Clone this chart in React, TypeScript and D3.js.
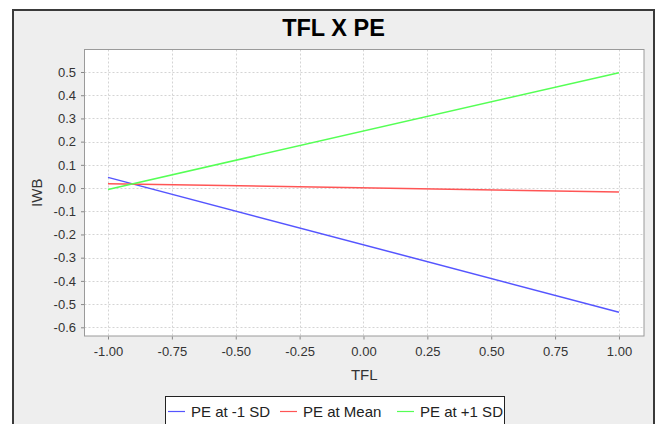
import * as d3 from 'd3'
import React, { useEffect, useRef } from 'react'

// TFL values at which the simple slopes are drawn
const tflPoints = [-1, 1]

// IWB predicted at TFL = -1 and TFL = +1, one array per PE level
const lowPE = [0.046, -0.535]
const meanPE = [0.019, -0.017]
const highPE = [-0.006, 0.497]

const seriesNames = ['PE at -1 SD', 'PE at Mean', 'PE at +1 SD']
const seriesColors = ['#5555FF', '#FF5555', '#55FF55']

const xTicks = [-1, -0.75, -0.5, -0.25, 0, 0.25, 0.5, 0.75, 1]
const yTicks = [0.5, 0.4, 0.3, 0.2, 0.1, 0, -0.1, -0.2, -0.3, -0.4, -0.5, -0.6]

const W = 658
const H = 424
const font = '"Liberation Sans", Arial, sans-serif'

const App = () => {
  const svgRef = useRef<SVGSVGElement | null>(null)

  useEffect(() => {
    if (!svgRef.current) return
    const root = d3.select(svgRef.current)
    root.selectAll('*').remove()

    // plot area
    const plot = { left: 84.5, right: 644, top: 49.5, bottom: 336 }

    const x = d3.scaleLinear().domain([-1.092, 1.098]).range([plot.left, plot.right])
    const y = d3.scaleLinear().domain([-0.6375, 0.597]).range([plot.bottom, plot.top])

    // outer chart frame
    root.append('rect').attr('width', W).attr('height', H).attr('fill', '#ffffff')
    root
      .append('rect')
      .attr('x', 13)
      .attr('y', 10)
      .attr('width', 641)
      .attr('height', H)
      .attr('fill', '#eeeeee')
      .attr('stroke', '#3a3a3a')
      .attr('stroke-width', 2)

    // title
    root
      .append('text')
      .attr('x', 333.5)
      .attr('y', 36)
      .attr('text-anchor', 'middle')
      .style('font-family', font)
      .style('font-size', '23.5px')
      .style('font-weight', 'bold')
      .attr('fill', '#000')
      .text('TFL X PE')

    // plot background
    root
      .append('rect')
      .attr('x', plot.left)
      .attr('y', plot.top)
      .attr('width', plot.right - plot.left)
      .attr('height', plot.bottom - plot.top)
      .attr('fill', '#ffffff')

    // dashed gridlines
    const grid = root.append('g').attr('stroke', '#d4d4d4').attr('stroke-dasharray', '2,2')
    xTicks.forEach((t) => {
      grid
        .append('line')
        .attr('x1', Math.round(x(t)) + 0.5)
        .attr('x2', Math.round(x(t)) + 0.5)
        .attr('y1', plot.top)
        .attr('y2', plot.bottom)
    })
    yTicks.forEach((t) => {
      grid
        .append('line')
        .attr('x1', plot.left)
        .attr('x2', plot.right)
        .attr('y1', Math.round(y(t)) + 0.5)
        .attr('y2', Math.round(y(t)) + 0.5)
    })

    // plot outline
    root
      .append('rect')
      .attr('x', plot.left)
      .attr('y', plot.top)
      .attr('width', plot.right - plot.left)
      .attr('height', plot.bottom - plot.top)
      .attr('fill', 'none')
      .attr('stroke', '#9a9a9a')
      .attr('stroke-width', 1)

    // x axis
    const xAxis = root.append('g').attr('transform', `translate(0,${plot.bottom + 0.5})`)
    xAxis
      .call(
        d3
          .axisBottom(x)
          .tickValues(xTicks)
          .tickSize(3)
          .tickPadding(7)
          .tickFormat((d) => d3.format('.2f')(d as number).replace('−', '-'))
      )
      .call((g) => g.select('.domain').remove())
      .call((g) => g.selectAll('.tick line').attr('stroke', '#888'))
      .call((g) =>
        g
          .selectAll('.tick text')
          .attr('fill', '#333')
          .style('font-family', font)
          .style('font-size', '13px')
      )

    // y axis
    const yAxis = root.append('g').attr('transform', `translate(${plot.left - 0.5},0)`)
    yAxis
      .call(
        d3
          .axisLeft(y)
          .tickValues(yTicks)
          .tickSize(3)
          .tickPadding(5)
          .tickFormat((d) => d3.format('.1f')(d as number).replace('−', '-'))
      )
      .call((g) => g.select('.domain').remove())
      .call((g) => g.selectAll('.tick line').attr('stroke', '#888'))
      .call((g) =>
        g
          .selectAll('.tick text')
          .attr('fill', '#333')
          .style('font-family', font)
          .style('font-size', '13px')
      )

    // axis titles
    root
      .append('text')
      .attr('x', (plot.left + plot.right) / 2)
      .attr('y', 380)
      .attr('text-anchor', 'middle')
      .style('font-family', font)
      .style('font-size', '15px')
      .attr('fill', '#333')
      .text('TFL')

    root
      .append('text')
      .attr('transform', `translate(42,${(plot.top + plot.bottom) / 2}) rotate(-90)`)
      .attr('text-anchor', 'middle')
      .style('font-family', font)
      .style('font-size', '15px')
      .attr('fill', '#333')
      .text('IWB')

    // series lines
    const line = d3
      .line<number>()
      .x((_, i) => x(tflPoints[i]))
      .y((d) => y(d))

    const allSeries = [lowPE, meanPE, highPE]
    allSeries.forEach((s, i) => {
      root
        .append('path')
        .datum(s)
        .attr('d', line)
        .attr('fill', 'none')
        .attr('stroke', seriesColors[i])
        .attr('stroke-width', 1.5)
    })

    // legend
    const legend = root.append('g')
    legend
      .append('rect')
      .attr('x', 165.5)
      .attr('y', 396.5)
      .attr('width', 339)
      .attr('height', 40)
      .attr('fill', '#ffffff')
      .attr('stroke', '#222')
      .attr('stroke-width', 1)

    const itemX = [168, 280, 397]
    seriesNames.forEach((name, i) => {
      legend
        .append('line')
        .attr('x1', itemX[i])
        .attr('x2', itemX[i] + 17)
        .attr('y1', 411.5)
        .attr('y2', 411.5)
        .attr('stroke', seriesColors[i])
        .attr('stroke-width', 1.2)
      legend
        .append('text')
        .attr('x', itemX[i] + 23)
        .attr('y', 417)
        .style('font-family', font)
        .style('font-size', '15px')
        .attr('fill', '#222')
        .text(name)
    })
  }, [])

  return (
    <div style={{ position: 'absolute', left: 0, top: 0, width: W, height: H }}>
      <svg ref={svgRef} width={W} height={H} style={{ display: 'block' }} />
    </div>
  )
}

export default App
